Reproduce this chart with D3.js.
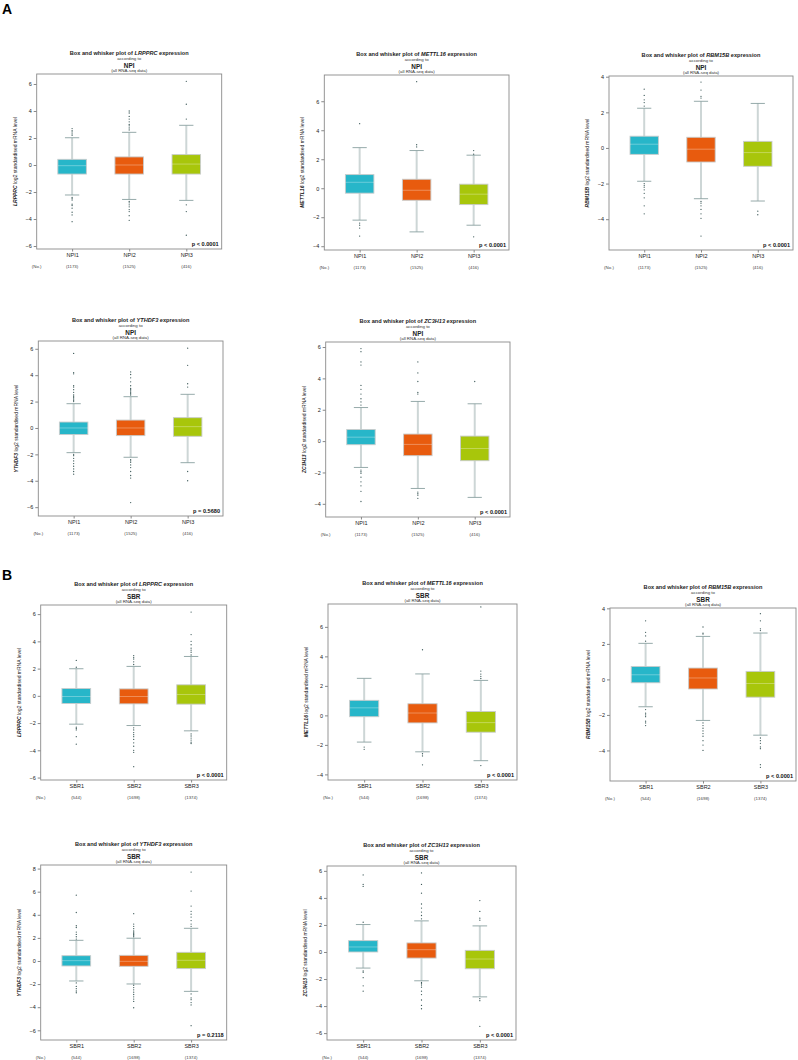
<!DOCTYPE html>
<html><head><meta charset="utf-8">
<script src="https://cdn.jsdelivr.net/npm/d3@7"></script>
<style>body{margin:0;background:#fff}svg{display:block;font-family:"Liberation Sans",Arial,sans-serif}</style>
</head><body><svg id="c" width="798" height="1060"></svg>
<script>
// ---------- data ----------
const genes = ["LRPPRC","METTL16","RBM15B","YTHDF3","ZC3H13","LRPPRC","METTL16","RBM15B","YTHDF3","ZC3H13"];
const factors = ["NPI","NPI","NPI","NPI","NPI","SBR","SBR","SBR","SBR","SBR"];
const npiGroups = ["NPI1","NPI2","NPI3"];
const npiCounts = ["(1173)","(1525)","(416)"];
const sbrGroups = ["SBR1","SBR2","SBR3"];
const sbrCounts = ["(544)","(1698)","(1374)"];
const pValues = ["p < 0.0001","p < 0.0001","p < 0.0001","p = 0.5680","p < 0.0001",
                 "p < 0.0001","p < 0.0001","p < 0.0001","p = 0.2118","p < 0.0001"];
const panelLetters = ["A","B"];
// y axis ranges and tick labels per panel
const yDomains = [[-6.22,6.74],[-4.26,7.81],[-5.73,4.04],[-6.67,6.59],[-4.84,6.32],
                  [-6.18,6.67],[-4.38,7.55],[-5.72,4.02],[-6.84,8.31],[-6.51,6.36]];
const ticksA = [-6,-4,-2,0,2,4,6];
const ticksB = [-4,-2,0,2,4,6];
const ticksC = [-4,-2,0,2,4];
const ticksD = [-6,-4,-2,0,2,4,6,8];
const yTicks = [ticksA,ticksB,ticksC,ticksA,ticksB,ticksA,ticksB,ticksC,ticksD,ticksA];

// box stats per group: [lower whisker, Q1, median, Q3, upper whisker]
const lrpprcNPI = [[-2.22,-0.67,-0.05,0.42,2.02],[-2.55,-0.67,0.0,0.6,2.42],[-2.62,-0.67,0.07,0.77,2.94]];
const lrpprcNPIOut = [[2.2,2.3,2.45,2.55,2.7,-2.4,-2.5,-2.6,-2.9,-3.0,-3.2,-3.5,-3.7,-4.2],
  [2.6,2.75,2.9,3.0,3.2,3.4,3.6,3.85,4.0,-2.7,-2.8,-2.95,-3.1,-3.3,-3.45,-3.75,-4.1],
  [3.4,4.5,6.2,-2.95,-3.45,-5.2]];
const mettl16NPI = [[-2.2,-0.34,0.41,0.94,2.8],[-3.01,-0.83,-0.14,0.62,2.6],[-2.55,-1.13,-0.41,0.28,2.28]];
const mettl16NPIOut = [[4.45,-2.4,-2.55,-2.75,-3.3],[2.85,3.0,7.35],[2.35,2.6,-3.35]];
const rbm15bNPI = [[-1.87,-0.36,0.21,0.66,2.23],[-2.85,-0.79,-0.07,0.6,2.62],[-2.98,-1.03,-0.26,0.37,2.5]];
const rbm15bNPIOut = [[2.35,2.55,2.7,2.95,3.3,-2.0,-2.1,-2.2,-2.35,-2.55,-2.8,-3.25,-3.7],
  [2.8,2.9,3.25,3.7,-3.0,-3.1,-3.25,-3.45,-3.7,-3.95,-4.95],[-3.55,-3.75]];
const ythdf3NPI = [[-1.87,-0.5,0.0,0.45,1.84],[-2.22,-0.58,0.0,0.6,2.37],[-2.63,-0.63,0.1,0.78,2.55]];
const ythdf3NPIOut = [[2.0,2.1,2.2,2.3,2.4,2.5,2.7,2.9,3.1,3.2,4.1,4.2,5.65,-2.0,-2.1,-2.3,-2.5,-2.7,-2.9,-3.1,-3.3,-3.5],
  [2.5,2.6,2.7,2.8,2.9,3.0,3.2,3.5,3.8,4.05,4.25,-2.4,-2.5,-2.6,-2.8,-3.0,-3.3,-3.6,-3.8,-5.65],
  [3.1,3.35,4.75,6.05,-3.3,-4.0]];
const zc3h13NPI = [[-1.68,-0.23,0.25,0.74,2.14],[-3.02,-0.93,-0.21,0.45,2.53],[-3.59,-1.25,-0.47,0.32,2.38]];
const zc3h13NPIOut = [[2.3,2.5,2.7,3.0,3.3,3.55,4.85,5.05,5.7,5.9,-1.85,-1.95,-2.05,-2.3,-2.6,-2.85,-3.2,-3.85],
  [3.0,3.1,3.8,4.35,5.05,-3.25,-3.35,-3.45,-3.65],[3.8]];
const lrpprcSBR = [[-2.08,-0.56,-0.05,0.54,1.99],[-2.18,-0.59,-0.05,0.51,2.16],[-2.57,-0.61,0.1,0.81,2.89]];
const lrpprcSBROut = [[2.1,2.6,-2.3,-2.4,-2.5,-3.0,-3.55],
  [2.3,2.5,2.7,2.8,2.95,-2.35,-2.5,-2.7,-2.85,-3.0,-3.2,-3.45,-3.7,-4.0,-4.15,-5.2],
  [3.0,3.2,3.35,3.5,3.75,4.0,4.5,6.15,-2.8,-2.95,-3.1,-3.25,-3.4,-3.5]];
const mettl16SBR = [[-1.81,-0.09,0.51,1.02,2.51],[-2.47,-0.51,0.16,0.79,2.81],[-3.07,-1.14,-0.49,0.26,2.37]];
const mettl16SBROut = [[-2.15,-2.3],[4.45,-2.6,-2.75,-3.35],[2.5,2.65,2.8,3.0,7.35,-3.4]];
const rbm15bSBR = [[-1.54,-0.19,0.26,0.73,2.03],[-2.31,-0.54,0.08,0.64,2.42],[-3.14,-1.0,-0.23,0.45,2.61]];
const rbm15bSBROut = [[2.15,2.45,2.65,3.3,-1.7,-1.9,-2.0,-2.1,-2.35,-2.45,-2.6],
  [2.55,2.6,2.95,-2.45,-2.6,-2.75,-2.9,-3.05,-3.2,-3.45,-3.7,-4.0],
  [2.75,2.85,3.3,3.7,-3.3,-3.45,-3.6,-3.8,-3.9,-4.8,-4.95]];
const ythdf3SBR = [[-1.73,-0.43,0.03,0.46,1.79],[-1.99,-0.46,-0.03,0.49,1.97],[-2.63,-0.66,0.06,0.75,2.83]];
const ythdf3SBROut = [[1.9,2.1,2.3,2.5,2.9,3.05,4.2,5.7,-1.9,-2.2,-2.4,-2.6,-2.75],
  [2.1,2.2,2.3,2.4,2.5,2.6,2.8,3.0,3.2,4.1,-2.1,-2.3,-2.5,-2.7,-2.9,-3.1,-3.3,-3.5,-4.05],
  [3.0,3.2,3.5,3.8,4.05,4.3,4.75,6.05,7.7,-2.85,-3.2,-3.35,-3.6,-3.8,-5.6]];
const zc3h13SBR = [[-1.19,0.0,0.37,0.84,2.03],[-2.13,-0.45,0.17,0.67,2.3],[-3.32,-1.24,-0.52,0.12,1.93]];
const zc3h13SBROut = [[2.2,4.85,5.0,5.7,-1.4,-1.5,-1.9,-2.5,-2.9],
  [2.45,2.7,2.95,3.25,3.55,4.35,5.0,5.85,-2.25,-2.35,-2.45,-2.6,-2.9,-3.15,-3.55,-3.95,-4.2],
  [2.35,2.5,3.0,3.8,-3.45,-3.6,-5.5]];

const boxStats = [lrpprcNPI,mettl16NPI,rbm15bNPI,ythdf3NPI,zc3h13NPI,lrpprcSBR,mettl16SBR,rbm15bSBR,ythdf3SBR,zc3h13SBR];
const outliers = [lrpprcNPIOut,mettl16NPIOut,rbm15bNPIOut,ythdf3NPIOut,zc3h13NPIOut,lrpprcSBROut,mettl16SBROut,rbm15bSBROut,ythdf3SBROut,zc3h13SBROut];

// ---------- layout & style ----------
const frames = [ // [left, right, top, bottom]
  [36.7,221.7,74,249],[324.3,509,75,250],[609,793,76,250],[38.3,223,341,516],[325.7,510,342,517],
  [40.7,226.7,605,780],[328,517,604,780],[610,796,608,781],[40.7,226.7,865,1040],[327,516,866,1040]];
const letterPos = [[2,14],[2,580]];
const colors = ["#27b6c9","#e85b0e","#a8c60b"];

const svg = d3.select("#c");
svg.append("rect").attr("width",798).attr("height",1060).attr("fill","#fff");

panelLetters.forEach((t,i)=>{
  svg.append("text").attr("x",letterPos[i][0]).attr("y",letterPos[i][1])
    .attr("font-size",14).attr("font-weight","bold").attr("font-family","Liberation Sans, Arial, sans-serif").text(t);
});

frames.forEach((f,pi)=>{
  const [L,R,T,B] = f;
  const g = svg.append("g");
  const isNPI = factors[pi]==="NPI";
  const groups = isNPI ? npiGroups : sbrGroups;
  const counts = isNPI ? npiCounts : sbrCounts;
  const x = d3.scalePoint().domain(groups).range([L,R]).padding(0.62);
  const y = d3.scaleLinear().domain(yDomains[pi]).range([B,T]);
  const step = x.step();
  const bw = step*0.5, cw = step*0.25;
  const cx = (L+R)/2;

  // titles
  const t1 = g.append("text").attr("x",cx).attr("y",T-19).attr("text-anchor","middle")
    .attr("font-size",5.6).attr("font-weight","bold").attr("fill","#222");
  t1.append("tspan").text("Box and whisker plot of ");
  t1.append("tspan").attr("font-style","italic").text(genes[pi]);
  t1.append("tspan").text(" expression");
  g.append("text").attr("x",cx).attr("y",T-14).attr("text-anchor","middle").attr("font-size",4.4).attr("fill","#333").text("according to");
  g.append("text").attr("x",cx).attr("y",T-6.5).attr("text-anchor","middle").attr("font-size",6.4).attr("font-weight","bold").attr("fill","#222").text(factors[pi]);
  g.append("text").attr("x",cx).attr("y",T-1.8).attr("text-anchor","middle").attr("font-size",4.4).attr("fill","#333").text("(all RNA-seq data)");

  // y axis
  const ya = g.append("g").attr("transform",`translate(${L},0)`)
    .call(d3.axisLeft(y).tickValues(yTicks[pi]).tickSize(3).tickPadding(2).tickFormat(d3.format("d")));
  ya.select(".domain").remove();
  ya.selectAll("line").attr("stroke","#555").attr("stroke-width",0.7);
  ya.selectAll("text").attr("font-size",5.5).attr("fill","#222").attr("font-family","Liberation Sans, Arial, sans-serif");

  // y axis title
  const yt = g.append("text").attr("transform",`translate(${L-20},${(T+B)/2}) rotate(-90)`)
    .attr("text-anchor","middle").attr("font-size",5).attr("fill","#222");
  yt.append("tspan").attr("font-style","italic").attr("font-weight","bold").text(genes[pi]);
  yt.append("tspan").text(" log2 standardised mRNA level");

  // x axis ticks and labels
  const xa = g.append("g").attr("transform",`translate(0,${B})`)
    .call(d3.axisBottom(x).tickSize(2.5).tickPadding(2));
  xa.select(".domain").remove();
  xa.selectAll("line").attr("stroke","#555").attr("stroke-width",0.7);
  xa.selectAll("text").attr("font-size",5.5).attr("fill","#222").attr("font-family","Liberation Sans, Arial, sans-serif");
  groups.forEach((gr,i)=>{
    g.append("text").attr("x",x(gr)).attr("y",B+19).attr("text-anchor","middle").attr("font-size",4.4).attr("fill","#444").text(counts[i]);
  });
  g.append("text").attr("x",L).attr("y",B+19).attr("text-anchor","middle").attr("font-size",4.4).attr("fill","#444").text("(No.)");

  // boxes
  groups.forEach((gr,i)=>{
    const s = boxStats[pi][i];
    const xc = x(gr);
    g.append("line").attr("x1",xc).attr("x2",xc).attr("y1",y(s[0])).attr("y2",y(s[4]))
      .attr("stroke","#cdd6d6").attr("stroke-width",2);
    [s[0],s[4]].forEach(v=>{
      g.append("line").attr("x1",xc-cw/2).attr("x2",xc+cw/2).attr("y1",y(v)).attr("y2",y(v))
        .attr("stroke","#8aa0a0").attr("stroke-width",0.9);
    });
    g.append("rect").attr("x",xc-bw/2).attr("width",bw).attr("y",y(s[3])).attr("height",y(s[1])-y(s[3]))
      .attr("fill",colors[i]).attr("stroke","#c8cccc").attr("stroke-width",0.9);
    g.append("line").attr("x1",xc-bw/2).attr("x2",xc+bw/2).attr("y1",y(s[2])).attr("y2",y(s[2]))
      .attr("stroke","#ffffff").attr("stroke-opacity",0.45).attr("stroke-width",0.7);
    g.selectAll(null).data(outliers[pi][i]).enter().append("circle")
      .attr("cx",xc).attr("cy",d=>y(d)).attr("r",0.65).attr("fill","#3e5a5a");
  });

  // frame
  g.append("rect").attr("x",L).attr("y",T).attr("width",R-L).attr("height",B-T)
    .attr("fill","none").attr("stroke","#8a8a8a").attr("stroke-width",0.9);

  // p value
  g.append("text").attr("x",R-3).attr("y",B-3).attr("text-anchor","end")
    .attr("font-size",5.6).attr("font-weight","bold").attr("fill","#111").text(pValues[pi]);
});
</script></body></html>
